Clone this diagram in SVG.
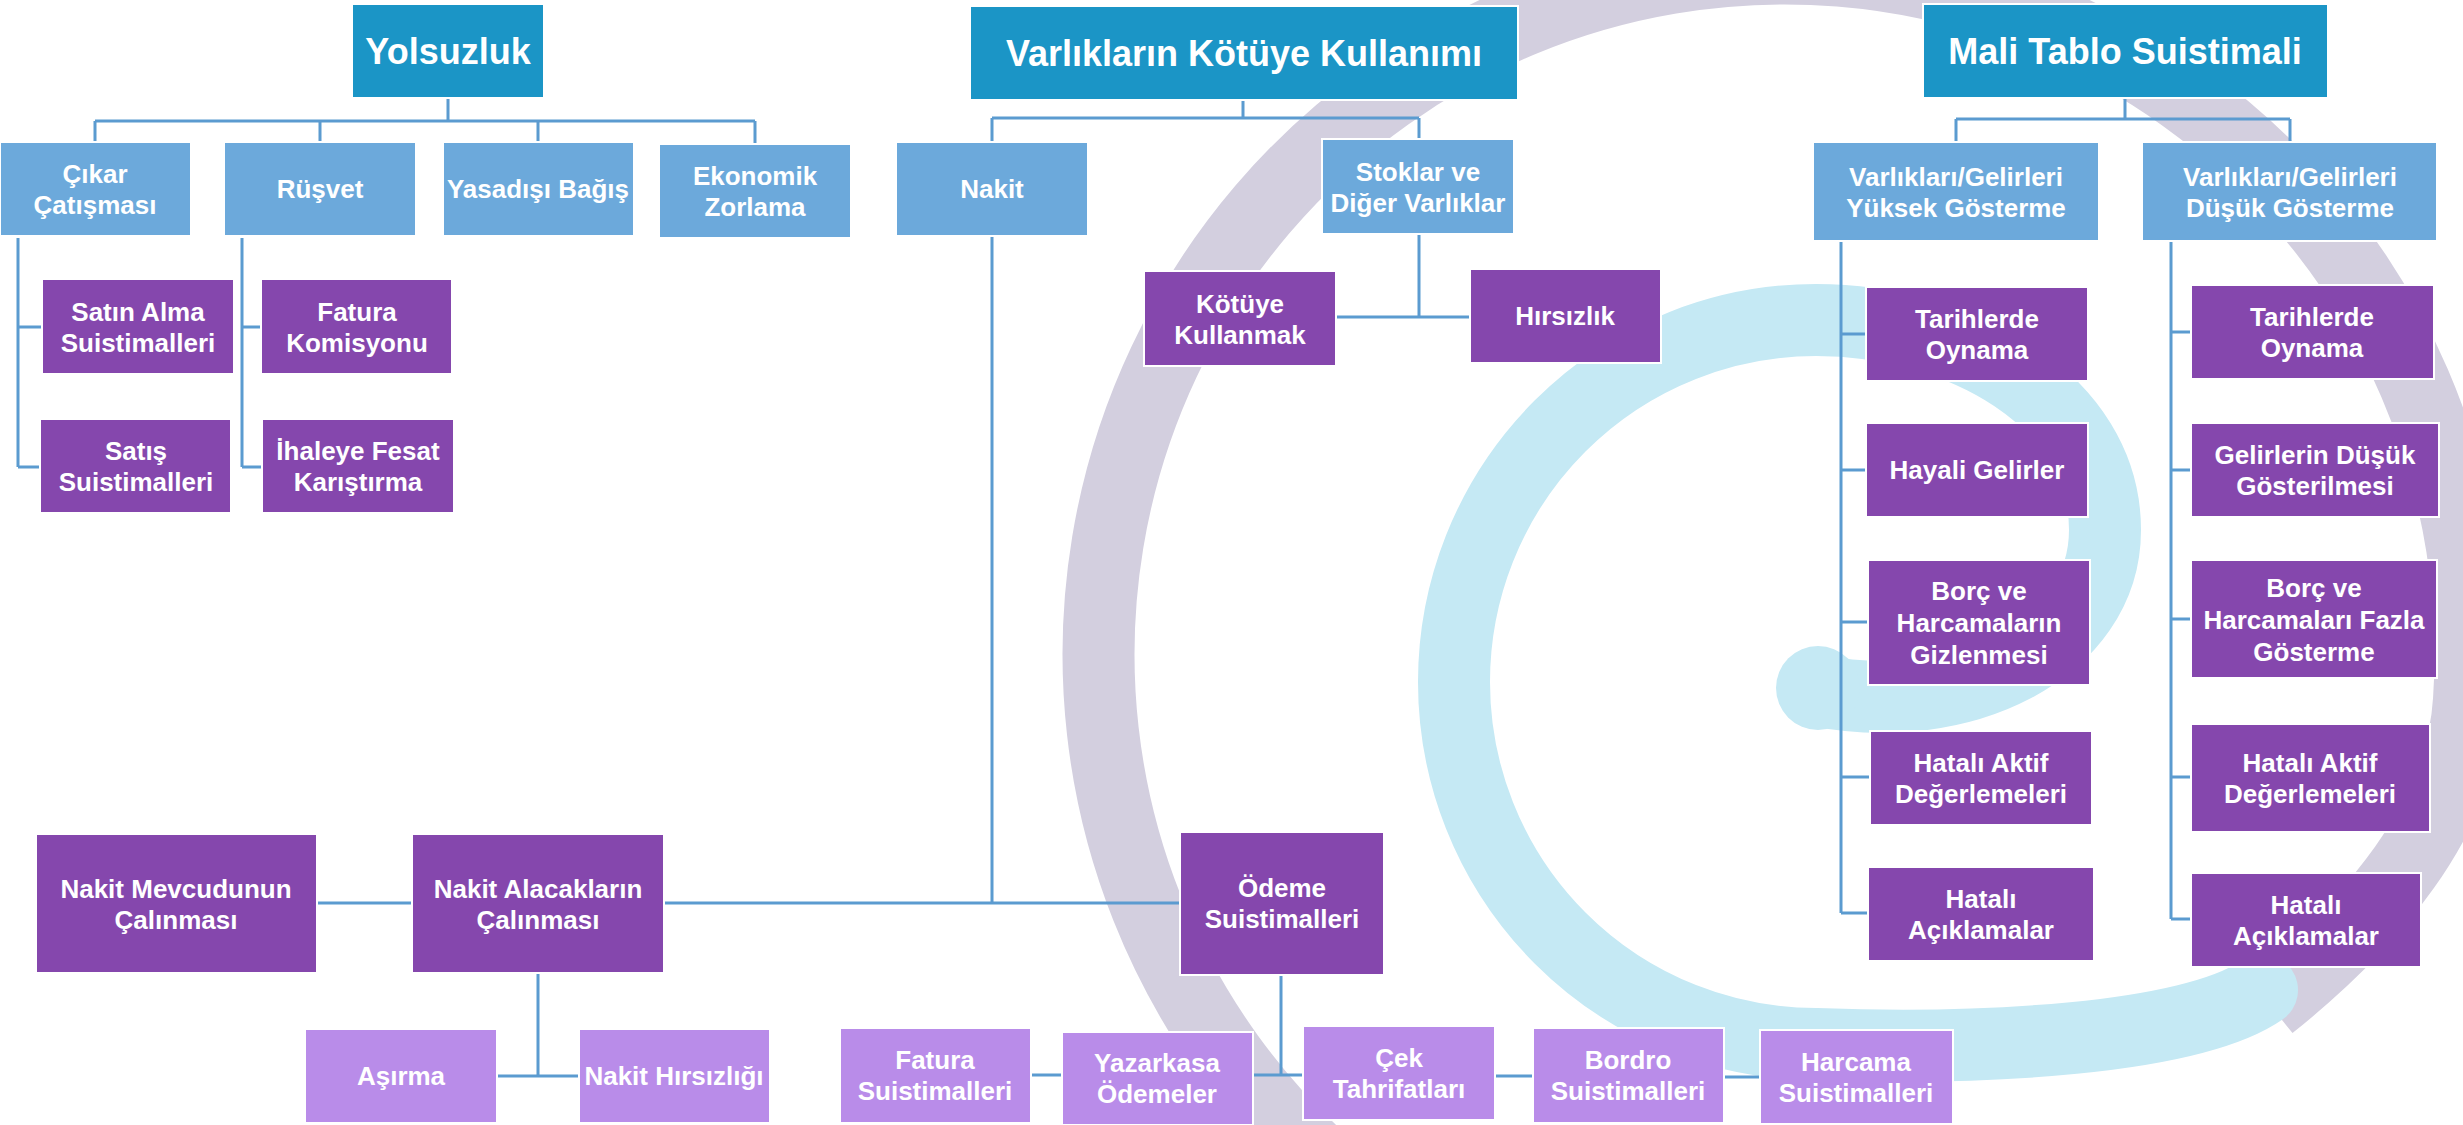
<svg xmlns="http://www.w3.org/2000/svg" width="2463" height="1125" viewBox="0 0 2463 1125">
<style>
.t{fill:#ffffff;font-family:"Liberation Sans",Arial,sans-serif;font-weight:bold;font-size:26px;text-anchor:middle}
.tt{fill:#ffffff;font-family:"Liberation Sans",Arial,sans-serif;font-weight:bold;font-size:36px;text-anchor:middle}
.h{fill:#1b95c6;stroke:#ffffff;stroke-width:2}
.b{fill:#6ca9db;stroke:#ffffff;stroke-width:2}
.p{fill:#8547ad;stroke:#ffffff;stroke-width:2}
.l{fill:#b98ce9;stroke:#ffffff;stroke-width:2}
.c path{fill:none;stroke:#5b9bd0;stroke-width:3}
</style>
<rect width="2463" height="1125" fill="#ffffff"/>
<g id="background">
<path d="M1332 1170 A686 686 0 1 1 2469 700 C2462 820 2370 925 2270 1005" fill="none" stroke="#d3cfdf" stroke-width="72"/>
<path d="M2262 990 C2190 1040 1980 1050 1816 1044 A362 362 0 0 1 1454 682 A362 362 0 0 1 1816 320 C1960 320 2105 400 2105 530 C2105 650 1960 720 1815 690" fill="none" stroke="#c5e9f4" stroke-width="72" stroke-linecap="round"/>
<circle cx="1818" cy="688" r="42" fill="#c5e9f4"/>
</g>
<g id="connectors" class="c">
<path d="M448 98 V121 M95 121 H755 M95 121 V142 M320 121 V142 M538 121 V142 M755 121 V144"/>
<path d="M18 238 V467 M18 327 H42 M18 467 H40"/>
<path d="M242 238 V467 M242 327 H261 M242 467 H262"/>
<path d="M1243 100 V118 M992 118 H1419 M992 118 V142 M1419 118 V139"/>
<path d="M1419 234 V317 M1336 317 H1470"/>
<path d="M992 236 V903 M664 903 H1180 M317 903 H412"/>
<path d="M538 973 V1076 M497 1076 H579"/>
<path d="M1281 975 V1075 M1031 1075 H1062 M1253 1075 H1303 M1495 1076 H1533 M1724 1077 H1760"/>
<path d="M2125 98 V119 M1956 119 H2290 M1956 119 V142 M2290 119 V142"/>
<path d="M1841 241 V913 M1841 334 H1866 M1841 470 H1866 M1841 622 H1868 M1841 777 H1870 M1841 913 H1868"/>
<path d="M2171 241 V919 M2171 332 H2191 M2171 470 H2191 M2171 619 H2191 M2171 777 H2191 M2171 919 H2191"/>
</g>
<g id="n-yolsuzluk"><rect class="h" x="352" y="4" width="192" height="94"/><text class="tt" x="448" y="64">Yolsuzluk</text></g>
<g id="n-varliklar"><rect class="h" x="970" y="6" width="548" height="94"/><text class="tt" x="1244" y="66">Varlıkların Kötüye Kullanımı</text></g>
<g id="n-mali"><rect class="h" x="1923" y="4" width="405" height="94"/><text class="tt" x="2125" y="64">Mali Tablo Suistimali</text></g>

<g id="n-cikar"><rect class="b" x="0" y="142" width="191" height="94"/><text class="t" x="95" y="183">Çıkar</text><text class="t" x="95" y="214">Çatışması</text></g>
<g id="n-rusvet"><rect class="b" x="224" y="142" width="192" height="94"/><text class="t" x="320" y="198">Rüşvet</text></g>
<g id="n-yasadisi"><rect class="b" x="443" y="142" width="191" height="94"/><text class="t" x="538" y="198">Yasadışı Bağış</text></g>
<g id="n-ekonomik"><rect class="b" x="659" y="144" width="192" height="94"/><text class="t" x="755" y="185">Ekonomik</text><text class="t" x="755" y="216">Zorlama</text></g>
<g id="n-nakit"><rect class="b" x="896" y="142" width="192" height="94"/><text class="t" x="992" y="198">Nakit</text></g>
<g id="n-stoklar"><rect class="b" x="1322" y="139" width="192" height="95"/><text class="t" x="1418" y="181">Stoklar ve</text><text class="t" x="1418" y="212">Diğer Varlıklar</text></g>
<g id="n-yuksek"><rect class="b" x="1813" y="142" width="286" height="99"/><text class="t" x="1956" y="186">Varlıkları/Gelirleri</text><text class="t" x="1956" y="217">Yüksek Gösterme</text></g>
<g id="n-dusuk"><rect class="b" x="2142" y="142" width="295" height="99"/><text class="t" x="2290" y="186">Varlıkları/Gelirleri</text><text class="t" x="2290" y="217">Düşük Gösterme</text></g>

<g id="n-satinalma"><rect class="p" x="42" y="279" width="192" height="95"/><text class="t" x="138" y="321">Satın Alma</text><text class="t" x="138" y="352">Suistimalleri</text></g>
<g id="n-satis"><rect class="p" x="40" y="419" width="191" height="94"/><text class="t" x="136" y="460">Satış</text><text class="t" x="136" y="491">Suistimalleri</text></g>
<g id="n-fatura-kom"><rect class="p" x="261" y="279" width="191" height="95"/><text class="t" x="357" y="321">Fatura</text><text class="t" x="357" y="352">Komisyonu</text></g>
<g id="n-ihale"><rect class="p" x="262" y="419" width="192" height="94"/><text class="t" x="358" y="460">İhaleye Fesat</text><text class="t" x="358" y="491">Karıştırma</text></g>
<g id="n-kotuye"><rect class="p" x="1144" y="271" width="192" height="95"/><text class="t" x="1240" y="313">Kötüye</text><text class="t" x="1240" y="344">Kullanmak</text></g>
<g id="n-hirsizlik"><rect class="p" x="1470" y="269" width="191" height="94"/><text class="t" x="1565" y="325">Hırsızlık</text></g>

<g id="n-tarih-l"><rect class="p" x="1866" y="287" width="222" height="94"/><text class="t" x="1977" y="328">Tarihlerde</text><text class="t" x="1977" y="359">Oynama</text></g>
<g id="n-hayali"><rect class="p" x="1866" y="423" width="222" height="94"/><text class="t" x="1977" y="479">Hayali Gelirler</text></g>
<g id="n-borc-l"><rect class="p" x="1868" y="560" width="222" height="125"/><text class="t" x="1979" y="600">Borç ve</text><text class="t" x="1979" y="632">Harcamaların</text><text class="t" x="1979" y="664">Gizlenmesi</text></g>
<g id="n-aktif-l"><rect class="p" x="1870" y="731" width="222" height="94"/><text class="t" x="1981" y="772">Hatalı Aktif</text><text class="t" x="1981" y="803">Değerlemeleri</text></g>
<g id="n-acik-l"><rect class="p" x="1868" y="867" width="226" height="94"/><text class="t" x="1981" y="908">Hatalı</text><text class="t" x="1981" y="939">Açıklamalar</text></g>

<g id="n-tarih-r"><rect class="p" x="2191" y="285" width="243" height="94"/><text class="t" x="2312" y="326">Tarihlerde</text><text class="t" x="2312" y="357">Oynama</text></g>
<g id="n-gelir-r"><rect class="p" x="2191" y="423" width="248" height="94"/><text class="t" x="2315" y="464">Gelirlerin Düşük</text><text class="t" x="2315" y="495">Gösterilmesi</text></g>
<g id="n-borc-r"><rect class="p" x="2191" y="560" width="246" height="118"/><text class="t" x="2314" y="597">Borç ve</text><text class="t" x="2314" y="629">Harcamaları Fazla</text><text class="t" x="2314" y="661">Gösterme</text></g>
<g id="n-aktif-r"><rect class="p" x="2191" y="724" width="239" height="108"/><text class="t" x="2310" y="772">Hatalı Aktif</text><text class="t" x="2310" y="803">Değerlemeleri</text></g>
<g id="n-acik-r"><rect class="p" x="2191" y="873" width="230" height="94"/><text class="t" x="2306" y="914">Hatalı</text><text class="t" x="2306" y="945">Açıklamalar</text></g>

<g id="n-mevcut"><rect class="p" x="36" y="834" width="281" height="139"/><text class="t" x="176" y="898">Nakit Mevcudunun</text><text class="t" x="176" y="929">Çalınması</text></g>
<g id="n-alacak"><rect class="p" x="412" y="834" width="252" height="139"/><text class="t" x="538" y="898">Nakit Alacakların</text><text class="t" x="538" y="929">Çalınması</text></g>
<g id="n-odeme"><rect class="p" x="1180" y="832" width="204" height="143"/><text class="t" x="1282" y="897">Ödeme</text><text class="t" x="1282" y="928">Suistimalleri</text></g>

<g id="n-asirma"><rect class="l" x="305" y="1029" width="192" height="94"/><text class="t" x="401" y="1085">Aşırma</text></g>
<g id="n-nakit-hirsiz"><rect class="l" x="579" y="1029" width="191" height="94"/><text class="t" x="674" y="1085">Nakit Hırsızlığı</text></g>
<g id="n-fatura-s"><rect class="l" x="840" y="1028" width="191" height="95"/><text class="t" x="935" y="1069">Fatura</text><text class="t" x="935" y="1100">Suistimalleri</text></g>
<g id="n-yazarkasa"><rect class="l" x="1062" y="1032" width="191" height="93"/><text class="t" x="1157" y="1072">Yazarkasa</text><text class="t" x="1157" y="1103">Ödemeler</text></g>
<g id="n-cek"><rect class="l" x="1303" y="1026" width="192" height="94"/><text class="t" x="1399" y="1067">Çek</text><text class="t" x="1399" y="1098">Tahrifatları</text></g>
<g id="n-bordro"><rect class="l" x="1533" y="1028" width="191" height="95"/><text class="t" x="1628" y="1069">Bordro</text><text class="t" x="1628" y="1100">Suistimalleri</text></g>
<g id="n-harcama"><rect class="l" x="1760" y="1030" width="193" height="94"/><text class="t" x="1856" y="1071">Harcama</text><text class="t" x="1856" y="1102">Suistimalleri</text></g>
</svg>
